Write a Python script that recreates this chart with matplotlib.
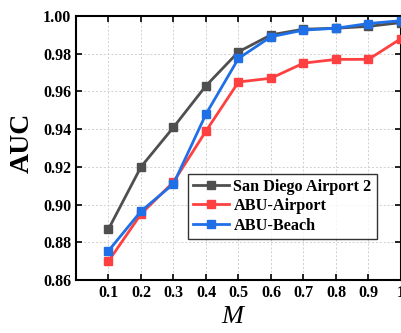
import matplotlib
matplotlib.use("Agg")
import matplotlib.pyplot as plt

M = [0.1, 0.2, 0.3, 0.4, 0.5, 0.6, 0.7, 0.8, 0.9, 1.0]
san_diego = [0.887, 0.920, 0.941, 0.963, 0.981, 0.990, 0.993, 0.9935, 0.9945, 0.9965]
abu_airport = [0.870, 0.895, 0.912, 0.939, 0.965, 0.967, 0.975, 0.977, 0.977, 0.988]
abu_beach = [0.8755, 0.8965, 0.911, 0.948, 0.9775, 0.989, 0.9925, 0.9935, 0.996, 0.9975]
xtick_labels = ["0.1", "0.2", "0.3", "0.4", "0.5", "0.6", "0.7", "0.8", "0.9", "1"]
yticks = [0.86, 0.88, 0.90, 0.92, 0.94, 0.96, 0.98, 1.00]

plt.rcParams['font.family'] = ['Liberation Serif', 'DejaVu Serif']

fig = plt.figure(figsize=(4.02, 3.33), dpi=100)
ax = fig.add_axes([0.189, 0.159, 0.8085, 0.793])

series = [
    (san_diego, "#4f4f4f", "San Diego Airport 2"),
    (abu_airport, "#ff4040", "ABU-Airport"),
    (abu_beach, "#1f6fe6", "ABU-Beach"),
]
for vals, col, lab in series:
    ax.plot(M, vals, color=col, lw=2, marker='s', ms=6, label=lab, clip_on=False, zorder=3)

ax.set_xlim(0, 1.0)
ax.set_ylim(0.86, 1.00)
ax.set_xticks(M)
ax.set_xticklabels(xtick_labels)
ax.set_yticks(yticks)
ax.set_yticklabels([f"{v:.2f}" for v in yticks])
ax.grid(True, color='#d0d0d0', ls=(0, (2, 2)), lw=0.7)
ax.set_axisbelow(True)
ax.tick_params(direction='in', top=True, right=True, length=4, width=1.2, labelsize=11.5)
for lbl in ax.get_xticklabels() + ax.get_yticklabels():
    lbl.set_fontweight('bold')
for s in ax.spines.values():
    s.set_linewidth(1.5)

ax.set_ylabel("AUC", fontsize=20, fontweight='bold')
ax.yaxis.set_label_coords(-0.128, 0.52)
ax.set_xlabel("M", fontsize=19, style='italic')
ax.xaxis.set_label_coords(0.48, -0.10)

leg = ax.legend(loc='center right', bbox_to_anchor=(0.925, 0.28), frameon=True, fancybox=False,
                edgecolor='black', prop={'weight': 'bold', 'size': 11.7}, handlelength=2.2,
                borderpad=0.3, labelspacing=0.22, handletextpad=0.3, borderaxespad=0)
leg.get_frame().set_linewidth(1.0)

fig.savefig("out.png", dpi=100)
